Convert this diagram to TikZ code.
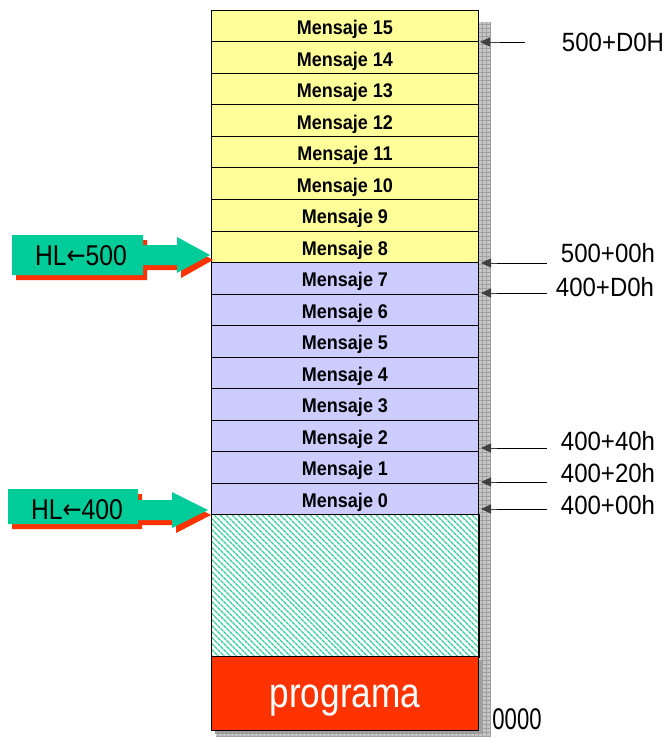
\documentclass[tikz,border=0pt]{standalone}
\usepackage{fontspec}
\setmainfont{Liberation Sans}
\newfontfamily\djv{DejaVu Sans}
\usetikzlibrary{patterns.meta,arrows.meta}
\definecolor{memyellow}{HTML}{FFFF99}
\definecolor{memlav}{HTML}{CCCCFF}
\definecolor{hlgreen}{HTML}{00CC99}
\definecolor{progred}{HTML}{FF3300}
\definecolor{hatchcol}{HTML}{33CC99}
\definecolor{tipgrey}{HTML}{404040}
\newcommand{\vstr}[1]{\scalebox{1}[1.1]{#1}}
\newcommand{\larr}{{\djv\fontsize{24}{26}\selectfont\raisebox{1pt}{←}}}
\begin{document}
\begin{tikzpicture}[x=1pt,y=-1pt,
  cell/.style={draw=black,line width=1pt,minimum width=267pt,minimum height=31.5pt,inner sep=0pt,anchor=north west,
    font=\fontsize{18}{20}\selectfont\bfseries},
  addr/.style={font=\fontsize{24}{26}\selectfont,inner sep=0pt,anchor=center},
  ptr/.style={line width=0.9pt,-{Triangle[length=10pt,width=9pt]},color=black},
  gridl/.style={gray!75,line width=0.5pt},
  hlarrow/.style={fill=hlgreen},
  hlshadow/.style={fill=progred},
  hltext/.style={font=\fontsize{26}{28}\selectfont,inner sep=0pt}]
\useasboundingbox (0,0) rectangle (665,738);
% shadow with grid
\fill[gray!45] (216,22) rectangle (490,737);
\foreach \x in {218,222,...,490} \draw[gridl] (\x,22) -- (\x,737);
\foreach \y in {24,28,...,736} \draw[gridl] (216,\y) -- (490,\y);
\fill[gray!75] (215,660) rectangle (483,734);
% memory cells
\foreach \i in {0,...,15}{
  \pgfmathsetmacro{\ytop}{514-(\i+1)*31.5}
  \ifnum\i>7
    \node[cell,fill=memyellow] (m\i) at (211,\ytop) {\raisebox{-8.5pt}[0pt][0pt]{\vstr{Mensaje \i}}};
  \else
    \node[cell,fill=memlav] (m\i) at (211,\ytop) {\raisebox{-8.5pt}[0pt][0pt]{\vstr{Mensaje \i}}};
  \fi
}
\fill[white] (211,514) rectangle (478,656);
\node[cell,minimum height=142pt,pattern={Lines[angle=-45,distance=4pt,line width=1.6pt]},pattern color=hatchcol] (free) at (211,514) {};
\draw[line width=1pt] (free.north west) rectangle (free.south east);
\node[cell,minimum height=74pt,fill=progred,text=white,font=\fontsize{40}{44}\selectfont] (prog) at (211,656) {\raisebox{-14pt}[0pt][0pt]{\scalebox{0.88}[1.05]{programa}}};
% address arrows
\coordinate (t15) at (525,42);
\coordinate (t8) at (547,263);
\coordinate (t7) at (547,293);
\coordinate (t2) at (547,448);
\coordinate (t1) at (547,482);
\coordinate (t0) at (547,509);
\draw[ptr,tipgrey] (t15) -- (480,42);
\draw[ptr,tipgrey] (t8) -- (481,263);
\draw[ptr,tipgrey] (t7) -- (481,293);
\draw[ptr,tipgrey] (t2) -- (481,448);
\draw[ptr,tipgrey] (t1) -- (481,482);
\draw[ptr,tipgrey] (t0) -- (481,509);
\draw[line width=0.9pt] (t15) -- (500,42);
\foreach \t in {t8,t7,t2,t1,t0} \draw[line width=0.9pt] (\t) -- ++(-50,0);
\node[addr] (a15) at (613,42) {\vstr{500+D0H}};
\node[addr] (a8) at (608,253) {\vstr{500+00h}};
\node[addr] (a7) at (605,287) {\vstr{400+D0h}};
\node[addr] (a2) at (608,441) {\vstr{400+40h}};
\node[addr] (a1) at (608,473) {\vstr{400+20h}};
\node[addr] (a0) at (608,505) {\vstr{400+00h}};
\node[addr,font=\fontsize{26}{28}\selectfont] (zero) at (517,719) {\scalebox{0.85}[1.15]{0000}};
% HL arrows
\begin{scope}[shift={(4,5)}]
\path[hlshadow] (12,235) -- (143,235) -- (143,245) -- (177,245) -- (177,237) -- (209,255) -- (177,273) -- (177,265) -- (143,265) -- (143,275) -- (12,275) -- cycle;
\path[hlshadow] (8,489) -- (138,489) -- (138,500) -- (172,500) -- (172,492) -- (207,510) -- (172,528) -- (172,520) -- (138,520) -- (138,524) -- (8,524) -- cycle;
\end{scope}
\path[hlarrow] (12,235) -- (143,235) -- (143,245) -- (177,245) -- (177,237) -- (210,255) -- (177,273) -- (177,265) -- (143,265) -- (143,275) -- (12,275) -- cycle;
\path[hlarrow] (8,489) -- (138,489) -- (138,500) -- (172,500) -- (172,492) -- (208,510) -- (172,528) -- (172,520) -- (138,520) -- (138,524) -- (8,524) -- cycle;
\node[hltext] (hl5) at (81,256) {\scalebox{0.95}[1.1]{HL\larr500}};
\node[hltext] (hl4) at (77,510) {\scalebox{0.95}[1.1]{HL\larr400}};
\end{tikzpicture}
\end{document}
